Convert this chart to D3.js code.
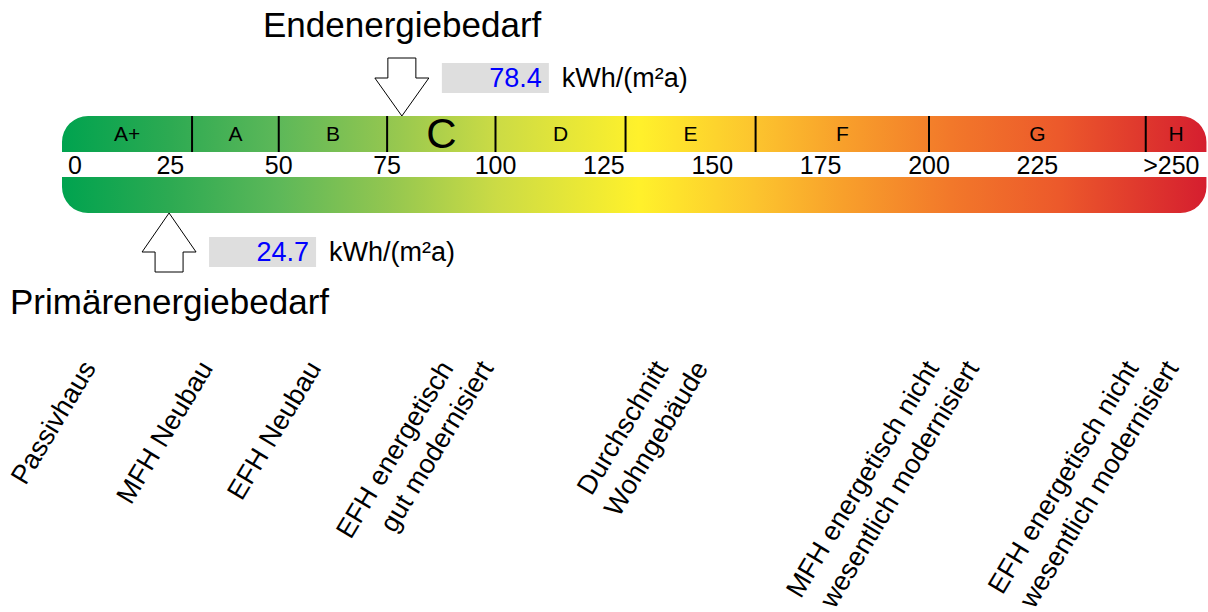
<!DOCTYPE html>
<html>
<head>
<meta charset="utf-8">
<script src="https://cdn.jsdelivr.net/npm/d3@7"></script>
<style>
  html, body { margin: 0; padding: 0; background: #fff; }
  svg { display: block; font-family: "Liberation Sans", Arial, sans-serif; }
</style>
</head>
<body>
<svg id="chart" width="1208" height="612"></svg>
<script>
// ---- data ----
const scaleMax = 264;
const classNames = ["A+", "A", "B", "C", "D", "E", "F", "G", "H"];
const classBounds = [0, 30, 50, 75, 100, 130, 160, 200, 250, 264];
const tickValues = [0, 25, 50, 75, 100, 125, 150, 175, 200, 225, 250];
const tickLabels = ["0", "25", "50", "75", "100", "125", "150", "175", "200", "225", ">250"];
const colorStopValues = [0, 25, 50, 75, 100, 133, 160, 180, 205, 230, 264];
const colorStopColors = ["#00a34f", "#2daa52", "#5db859", "#92c650", "#cbdb45", "#fff12b",
                         "#fcc42e", "#f8a02b", "#f2782a", "#ec592b", "#d51e2f"];
const endenergieValue = 78.4;
const primaerValue = 24.7;
const endTitle = "Endenergiebedarf";
const primTitle = "Primärenergiebedarf";
const unitLabel = "kWh/(m²a)";
const refValues = [8, 35, 60, 90.5, 140, 202.5, 248.5];
const refLabels = [
  ["Passivhaus"],
  ["MFH Neubau"],
  ["EFH Neubau"],
  ["EFH energetisch", "gut modernisiert"],
  ["Durchschnitt", "Wohngebäude"],
  ["MFH energetisch nicht", "wesentlich modernisiert"],
  ["EFH energetisch nicht", "wesentlich modernisiert"]
];

// ---- layout ----
const svg = d3.select("#chart");
const x = d3.scaleLinear().domain([0, scaleMax]).range([62, 62 + 4.335 * scaleMax]);

const topBar = { y: 116, h: 36 };
const botBar = { y: 177, h: 36 };
const r = 26;

const defs = svg.append("defs");
const grad = defs.append("linearGradient")
  .attr("id", "scaleGrad")
  .attr("gradientUnits", "userSpaceOnUse")
  .attr("x1", x(0)).attr("x2", x(scaleMax)).attr("y1", 0).attr("y2", 0);
colorStopValues.forEach((v, i) => {
  grad.append("stop").attr("offset", v / scaleMax).attr("stop-color", colorStopColors[i]);
});

function barPath(x0, x1, y0, h, roundTop) {
  const p = d3.path();
  if (roundTop) {
    p.moveTo(x0, y0 + h);
    p.lineTo(x0, y0 + r);
    p.arcTo(x0, y0, x0 + r, y0, r);
    p.lineTo(x1 - r, y0);
    p.arcTo(x1, y0, x1, y0 + r, r);
    p.lineTo(x1, y0 + h);
    p.closePath();
  } else {
    p.moveTo(x0, y0);
    p.lineTo(x1, y0);
    p.lineTo(x1, y0 + h - r);
    p.arcTo(x1, y0 + h, x1 - r, y0 + h, r);
    p.lineTo(x0 + r, y0 + h);
    p.arcTo(x0, y0 + h, x0, y0 + h - r, r);
    p.closePath();
  }
  return p.toString();
}

svg.append("path").attr("d", barPath(x(0), x(scaleMax), topBar.y, topBar.h, true))
  .attr("fill", "url(#scaleGrad)");
svg.append("path").attr("d", barPath(x(0), x(scaleMax), botBar.y, botBar.h, false))
  .attr("fill", "url(#scaleGrad)");

// class dividers
svg.append("g").selectAll("line")
  .data(classBounds.slice(1, -1))
  .join("line")
  .attr("x1", d => x(d)).attr("x2", d => x(d))
  .attr("y1", topBar.y).attr("y2", topBar.y + topBar.h)
  .attr("stroke", "#000").attr("stroke-width", 2);

// class labels
const activeClass = classBounds.findIndex((b, i) => i < classNames.length && endenergieValue >= b && endenergieValue < classBounds[i + 1]);
svg.append("g").selectAll("text")
  .data(classNames)
  .join("text")
  .attr("x", (d, i) => x((classBounds[i] + classBounds[i + 1]) / 2))
  .attr("y", (d, i) => i === activeClass ? 148 : 141)
  .attr("text-anchor", "middle")
  .attr("font-size", (d, i) => i === activeClass ? 42 : 21)
  .attr("fill", "#000")
  .text(d => d);

// tick labels
svg.append("g").selectAll("text")
  .data(tickValues)
  .join("text")
  .attr("x", (d, i) => i === 0 ? x(d) + 6 : (i === tickValues.length - 1 ? x(scaleMax) - 7 : x(d)))
  .attr("y", 174)
  .attr("text-anchor", (d, i) => i === 0 ? "start" : (i === tickValues.length - 1 ? "end" : "middle"))
  .attr("font-size", 25)
  .attr("fill", "#000")
  .text((d, i) => tickLabels[i]);

// arrows + value boxes
function arrowPath(tx, ty, dir, headLen, headHalf, shaftLen, shaftHalf) {
  const hb = ty + dir * headLen;
  const se = ty + dir * (headLen + shaftLen);
  return [
    [tx, ty], [tx + headHalf, hb], [tx + shaftHalf, hb], [tx + shaftHalf, se],
    [tx - shaftHalf, se], [tx - shaftHalf, hb], [tx - headHalf, hb]
  ].map((p, i) => (i ? "L" : "M") + p[0] + "," + p[1]).join("") + "Z";
}

function drawIndicator(value, tipY, dir) {
  const tx = x(value);
  const headLen = dir < 0 ? 38 : 39;
  const g = svg.append("g");
  g.append("path")
    .attr("d", arrowPath(tx, tipY, dir, headLen, 27, 20, 14))
    .attr("fill", "#fff").attr("stroke", "#000").attr("stroke-width", 1);
  const hb = tipY + dir * headLen;
  g.append("rect")
    .attr("x", tx + 40).attr("y", hb - 15)
    .attr("width", 107).attr("height", 30)
    .attr("fill", "#dedede");
  g.append("text")
    .attr("x", tx + 140).attr("y", hb + 8.5)
    .attr("text-anchor", "end").attr("font-size", 27).attr("fill", "#0000ff")
    .text(d3.format(".1f")(value));
  g.append("text")
    .attr("x", tx + 160).attr("y", hb + 8.5)
    .attr("font-size", 27).attr("fill", "#000")
    .text(unitLabel);
}
drawIndicator(endenergieValue, topBar.y, -1);
drawIndicator(primaerValue, botBar.y + botBar.h, 1);

// titles
svg.append("text").attr("x", 263).attr("y", 37).attr("font-size", 35).attr("fill", "#000").text(endTitle);
svg.append("text").attr("x", 10).attr("y", 314).attr("font-size", 35).attr("fill", "#000").text(primTitle);

// reference labels (rotated)
const angle = 59, lineShift = 40, labelBaseY = 368;
const lg = svg.append("g");
refLabels.forEach((lines, k) => {
  lines.forEach((line, i) => {
    lg.append("text")
      .attr("transform", `translate(${x(refValues[k]) + i * lineShift},${labelBaseY}) rotate(${-angle})`)
      .attr("text-anchor", "end")
      .attr("font-size", 27)
      .attr("fill", "#000")
      .text(line);
  });
});
</script>
</body>
</html>
